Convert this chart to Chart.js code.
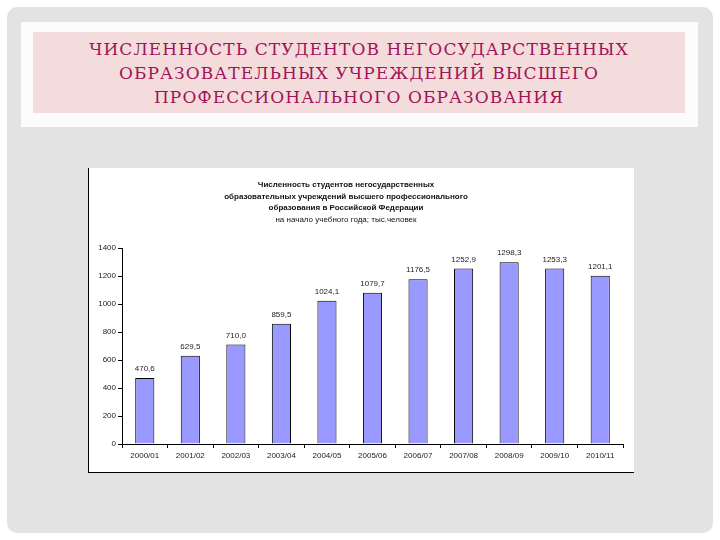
<!DOCTYPE html>
<html>
<head>
<meta charset="utf-8">
<script src="https://cdn.jsdelivr.net/npm/chart.js@4/dist/chart.umd.min.js"></script>
<style>
  body { margin: 0; width: 720px; height: 540px; background: #ffffff; position: relative; overflow: hidden; }
  #card { position: absolute; left: 7px; top: 7px; width: 706px; height: 526px; border-radius: 10px; background: #e3e3e3; }
  #titleOuter { position: absolute; left: 21px; top: 22px; width: 677px; height: 105px; background: #fdfcfc; }
  #titleInner { position: absolute; left: 33px; top: 32px; width: 652px; height: 81px; background: #f5dcdc;
    color: #a01458; font-family: "DejaVu Serif", "Liberation Serif", serif; font-size: 17px; line-height: 24px;
    text-align: center; padding-top: 5px; box-sizing: border-box; letter-spacing: 1.1px; }
  #chartBox { position: absolute; left: 88px; top: 168px; width: 546px; height: 305px; background: #ffffff;
    border-left: 1px solid #000; border-bottom: 1px solid #000; box-sizing: border-box; }
  #chartBox canvas { position: absolute; left: 0; top: 0; }
</style>
</head>
<body>
<div id="card"></div>
<div id="titleOuter"></div>
<div id="titleInner">ЧИСЛЕННОСТЬ СТУДЕНТОВ НЕГОСУДАРСТВЕННЫХ<br>ОБРАЗОВАТЕЛЬНЫХ УЧРЕЖДЕНИЙ ВЫСШЕГО<br>ПРОФЕССИОНАЛЬНОГО ОБРАЗОВАНИЯ</div>
<div id="chartBox"><canvas id="barChart" width="545" height="304"></canvas></div>
<script>
// academic years
var years = ["2000/01", "2001/02", "2002/03", "2003/04", "2004/05", "2005/06",
             "2006/07", "2007/08", "2008/09", "2009/10", "2010/11"];
// students, thousand people
var students = [470.6, 629.5, 710.0, 859.5, 1024.1, 1079.7, 1176.5, 1252.9, 1298.3, 1253.3, 1201.1];
var yTicks = [0, 200, 400, 600, 800, 1000, 1200, 1400];

var titleLines = ["Численность студентов негосударственных",
                  "образовательных учреждений высшего профессионального",
                  "образования в Российской Федерации"];
var subtitleLine = "на начало учебного года; тыс.человек";

var tickFont = { family: "Arial, 'Liberation Sans', sans-serif", size: 8 };

// values above the bars, written with a comma like the original
var valueLabels = {
  id: 'valueLabels',
  afterDatasetsDraw: function (chart) {
    var ctx = chart.ctx;
    var meta = chart.getDatasetMeta(0);
    ctx.save();
    ctx.font = "8px Arial, 'Liberation Sans', sans-serif";
    ctx.fillStyle = '#222';
    ctx.textAlign = 'center';
    ctx.textBaseline = 'bottom';
    meta.data.forEach(function (bar, i) {
      ctx.fillText(students[i].toFixed(1).replace('.', ','), bar.x, bar.y - 5);
    });
    ctx.restore();
  }
};

// chart heading sits a little left of centre in the original
var heading = {
  id: 'heading',
  afterDraw: function (chart) {
    var ctx = chart.ctx;
    ctx.save();
    ctx.textAlign = 'center';
    ctx.textBaseline = 'middle';
    ctx.fillStyle = '#111';
    ctx.font = "bold 8px Arial, 'Liberation Sans', sans-serif";
    titleLines.forEach(function (line, i) {
      ctx.fillText(line, 257, 17 + i * 11.5);
    });
    ctx.font = "8px Arial, 'Liberation Sans', sans-serif";
    ctx.fillText(subtitleLine, 257, 52);
    ctx.restore();
  }
};

new Chart(document.getElementById('barChart'), {
  type: 'bar',
  data: {
    labels: years,
    datasets: [{
      data: students,
      backgroundColor: '#9999ff',
      borderColor: '#000',
      borderWidth: 1,
      barPercentage: 0.42,
      categoryPercentage: 1
    }]
  },
  options: {
    responsive: false,
    animation: false,
    layout: { padding: { top: 80, right: 11, left: 0, bottom: 0 } },
    plugins: {
      legend: { display: false },
      tooltip: { enabled: false }
    },
    scales: {
      x: {
        grid: { offset: true, drawOnChartArea: false, tickLength: 4, color: '#000' },
        border: { color: '#000' },
        ticks: { font: tickFont, color: '#222', padding: 3, maxRotation: 0 },
        afterFit: function (scale) { scale.height = 28; }
      },
      y: {
        min: 0,
        max: 1400,
        afterBuildTicks: function (scale) {
          scale.ticks = yTicks.map(function (v) { return { value: v }; });
        },
        grid: { drawOnChartArea: false, tickLength: 4, color: '#000' },
        border: { color: '#000' },
        ticks: {
          font: tickFont, color: '#222', padding: 2,
          callback: function (value) { return String(value); }
        },
        afterFit: function (scale) { scale.width = 33; }
      }
    }
  },
  plugins: [valueLabels, heading]
});
</script>
</body>
</html>
